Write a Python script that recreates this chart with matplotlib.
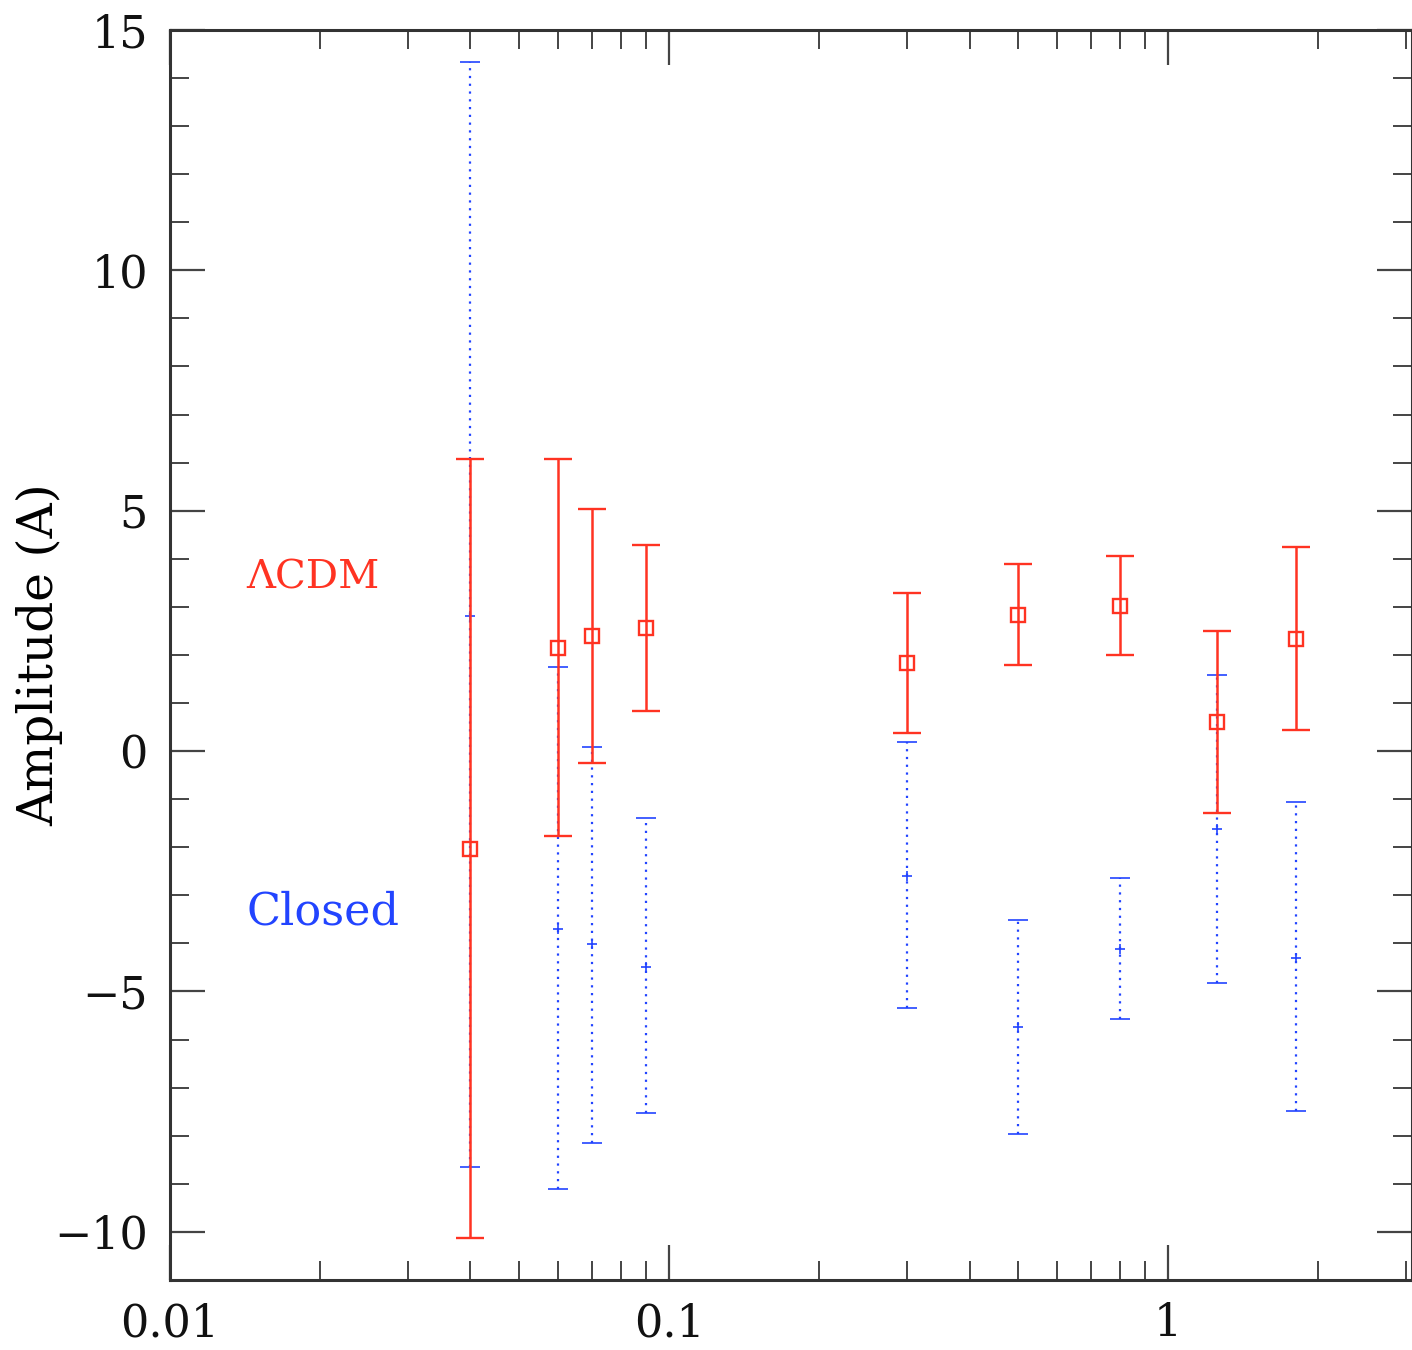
import matplotlib
matplotlib.use("Agg")
import matplotlib.pyplot as plt
from matplotlib.ticker import FixedLocator, MultipleLocator, NullFormatter

# redshift-ish bins (log x) and amplitudes for both models
z = [0.04, 0.06, 0.07, 0.09, 0.3, 0.5, 0.8, 1.25, 1.8]

lcdm = [-2.04, 2.14, 2.39, 2.56, 1.83, 2.83, 3.02, 0.60, 2.33]
lcdm_hi = [6.08, 6.08, 5.04, 4.29, 3.29, 3.89, 4.06, 2.50, 4.25]
lcdm_lo = [-10.13, -1.77, -0.25, 0.83, 0.37, 1.79, 2.00, -1.29, 0.44]

closed = [2.81, -3.69, -4.02, -4.50, -2.60, -5.74, -4.12, -1.62, -4.31]
closed_hi = [14.33, 1.75, 0.08, -1.39, 0.19, -3.52, -2.64, 1.58, -1.06]
closed_lo = [-8.65, -9.10, -8.16, -7.53, -5.35, -7.97, -5.58, -4.83, -7.48]

red = "#ff3322"
blue = "#2244ff"

plt.rcParams['font.family'] = ['DejaVu Serif']

fig = plt.figure(figsize=(14.12, 13.5), dpi=100)
ax = fig.add_axes([0.1204, 0.0519, 0.8796, 0.9259])

# closed model: dotted error bars, small star markers
err_c = [[c - l for c, l in zip(closed, closed_lo)], [h - c for c, h in zip(closed, closed_hi)]]
eb = ax.errorbar(z, closed, yerr=err_c, fmt='+', color=blue, ms=7, mew=1.2,
                 elinewidth=1.6, capsize=7, capthick=1.2, zorder=2)
eb[2][0].set_linestyle((0, (1, 2.5)))

# LCDM: solid error bars, open squares
err_l = [[c - l for c, l in zip(lcdm, lcdm_lo)], [h - c for c, h in zip(lcdm, lcdm_hi)]]
ax.errorbar(z, lcdm, yerr=err_l, fmt='s', color=red, mfc='none', ms=10.5, mew=1.7,
            elinewidth=1.8, capsize=10, capthick=1.8, zorder=3)

ax.set_xscale('log')
ax.set_xlim(0.01, 3.08)
ax.set_ylim(-11, 15)

ax.xaxis.set_major_locator(FixedLocator([0.01, 0.1, 1]))
ax.xaxis.set_minor_locator(FixedLocator([m * d for d in (0.01, 0.1, 1) for m in range(2, 10)]))
ax.xaxis.set_minor_formatter(NullFormatter())
ax.set_xticklabels(['0.01', '0.1', '1'])
ax.yaxis.set_major_locator(MultipleLocator(5))
ax.yaxis.set_minor_locator(MultipleLocator(1))
ax.set_yticklabels(['\u221210' if v == -10 else ('\u22125' if v == -5 else str(int(v))) for v in ax.get_yticks()])

ax.tick_params(which='both', direction='in', top=True, right=True, color='#444444',
               labelsize=32, labelcolor='#111111')
ax.tick_params(which='major', length=25, width=1.6, pad=16)
ax.tick_params(which='minor', length=14, width=1.4)
for s in ax.spines.values():
    s.set_linewidth(2.2)
    s.set_color('#333333')

ax.set_ylabel('Amplitude (A)', fontsize=35, va='center')
ax.yaxis.set_label_coords(-0.105, 0.5)

ax.text(0.0142, 3.6, '\u039bCDM', color=red, fontsize=29, va='center', ha='left')
ax.text(0.0142, -3.35, 'Closed', color=blue, fontsize=32, va='center', ha='left')

fig.savefig('out.png', dpi=100)
